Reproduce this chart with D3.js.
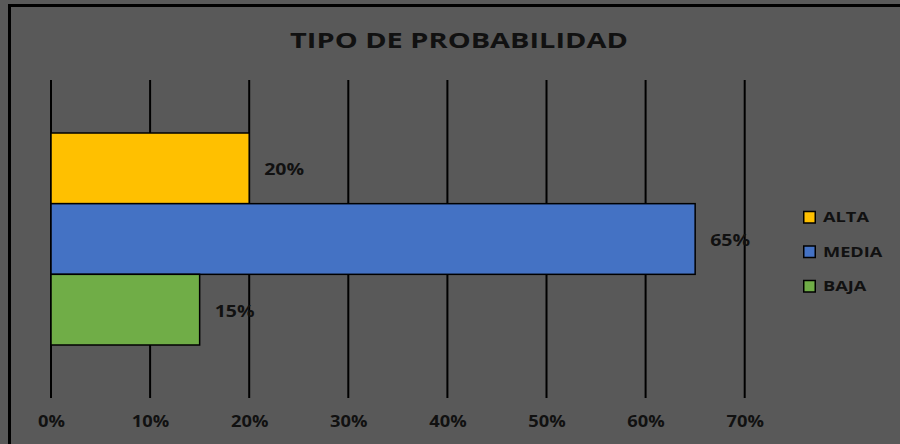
<!DOCTYPE html>
<html>
<head>
<meta charset="utf-8">
<script src="https://cdn.jsdelivr.net/npm/d3@7"></script>
<style>
  html, body { margin: 0; padding: 0; background: #595959; overflow: hidden; }
  svg { display: block; }
  text { font-family: 'Open Sans', sans-serif; font-weight: bold; fill: #111; }
</style>
</head>
<body>
<svg></svg>
<script>
// data
var categories = ['ALTA', 'MEDIA', 'BAJA'];
var values = [20, 65, 15];
var colors = ['#FFC000', '#4472C4', '#70AD47'];
var tickValues = [0, 10, 20, 30, 40, 50, 60, 70];
var title = 'TIPO DE PROBABILIDAD';

var width = 900;
var height = 444;

var svg = d3.select('svg')
    .attr('width', width)
    .attr('height', height);

// the original picture is stretched sideways, so text gets a horizontal scale
// k = wanted width / measured width of a sample string
var stretchText = (sel, sample, wanted) => {
    var probe = svg.append('text')
        .style('font-size', sel.style('font-size'))
        .text(sample);
    var k = wanted / probe.node().getComputedTextLength();
    probe.remove();
    sel.each(function() {
        var t = d3.select(this);
        var x = +t.attr('x') || 0;
        var y = +t.attr('y') || 0;
        t.attr('x', 0).attr('y', 0)
         .attr('transform', 'translate(' + x + ',' + y + ') scale(' + k + ',1)');
    });
};

// background + frame (frame runs off right and bottom edge)
svg.append('rect')
    .attr('width', width)
    .attr('height', height)
    .attr('fill', '#595959');

svg.append('rect')
    .attr('x', 9.5)
    .attr('y', 5.5)
    .attr('width', width + 20)
    .attr('height', height + 20)
    .attr('fill', 'none')
    .attr('stroke', '#000')
    .attr('stroke-width', 3);

// scales
var xScale = d3.scaleLinear()
    .domain([0, 70])
    .range([51, 744.7]);

var yScale = d3.scaleBand()
    .domain(categories)
    .range([80, 398])
    .paddingInner(0)
    .paddingOuter(0.75);

// title
var titleText = svg.append('text')
    .attr('x', 459)
    .attr('y', 47.5)
    .attr('text-anchor', 'middle')
    .style('font-size', '22px')
    .text(title);
stretchText(titleText, title, 338);

// gridlines
svg.append('g')
    .selectAll('line')
    .data(tickValues)
    .enter()
    .append('line')
    .attr('x1', function(d) { return xScale(d); })
    .attr('x2', function(d) { return xScale(d); })
    .attr('y1', 80)
    .attr('y2', 398)
    .attr('stroke', '#000')
    .attr('stroke-width', 2);

// x axis labels
var xAxis = d3.axisBottom(xScale)
    .tickValues(tickValues)
    .tickSize(0)
    .tickPadding(0)
    .tickFormat(function(d) { return d + '%'; });

var axisG = svg.append('g')
    .attr('transform', 'translate(0, 421.5)')
    .call(xAxis);
axisG.select('.domain').remove();
var tickText = axisG.selectAll('text')
    .attr('y', 0)
    .attr('dy', '0.35em')
    .attr('fill', '#111')
    .style('font-size', '15.5px')
    .style('font-family', "'Open Sans', sans-serif")
    .style('font-weight', 'bold');
stretchText(tickText, '10%', 37.5);

// bars
var rows = categories.map(function(c, i) {
    return { cat: c, value: values[i], color: colors[i] };
});

svg.append('g')
    .selectAll('rect')
    .data(rows)
    .enter()
    .append('rect')
    .attr('x', xScale(0))
    .attr('y', function(d) { return yScale(d.cat); })
    .attr('width', function(d) { return xScale(d.value) - xScale(0); })
    .attr('height', yScale.bandwidth())
    .attr('fill', function(d) { return d.color; })
    .attr('stroke', '#000')
    .attr('stroke-width', 1.5);

// value labels
var valueText = svg.append('g')
    .selectAll('text')
    .data(rows)
    .enter()
    .append('text')
    .attr('x', function(d) { return xScale(d.value) + 15; })
    .attr('y', function(d) { return yScale(d.cat) + yScale.bandwidth() / 2 + 1.5; })
    .attr('dy', '0.35em')
    .style('font-size', '15.5px')
    .text(function(d) { return d.value + '%'; });
stretchText(valueText, '20%', 40);

// legend
var legend = svg.append('g')
    .selectAll('g')
    .data(rows)
    .enter()
    .append('g')
    .attr('transform', function(d, i) {
        return 'translate(803, ' + (217 + i * 34.5) + ')';
    });

legend.append('rect')
    .attr('x', 0.75)
    .attr('y', -5.5)
    .attr('width', 11.5)
    .attr('height', 11.5)
    .attr('fill', function(d) { return d.color; })
    .attr('stroke', '#000')
    .attr('stroke-width', 1.5);

var legendText = legend.append('text')
    .attr('x', 20)
    .attr('y', 0)
    .attr('dy', '0.36em')
    .style('font-size', '14.5px')
    .text(function(d) { return d.cat; });
stretchText(legendText, 'ALTA', 46);
</script>
</body>
</html>
